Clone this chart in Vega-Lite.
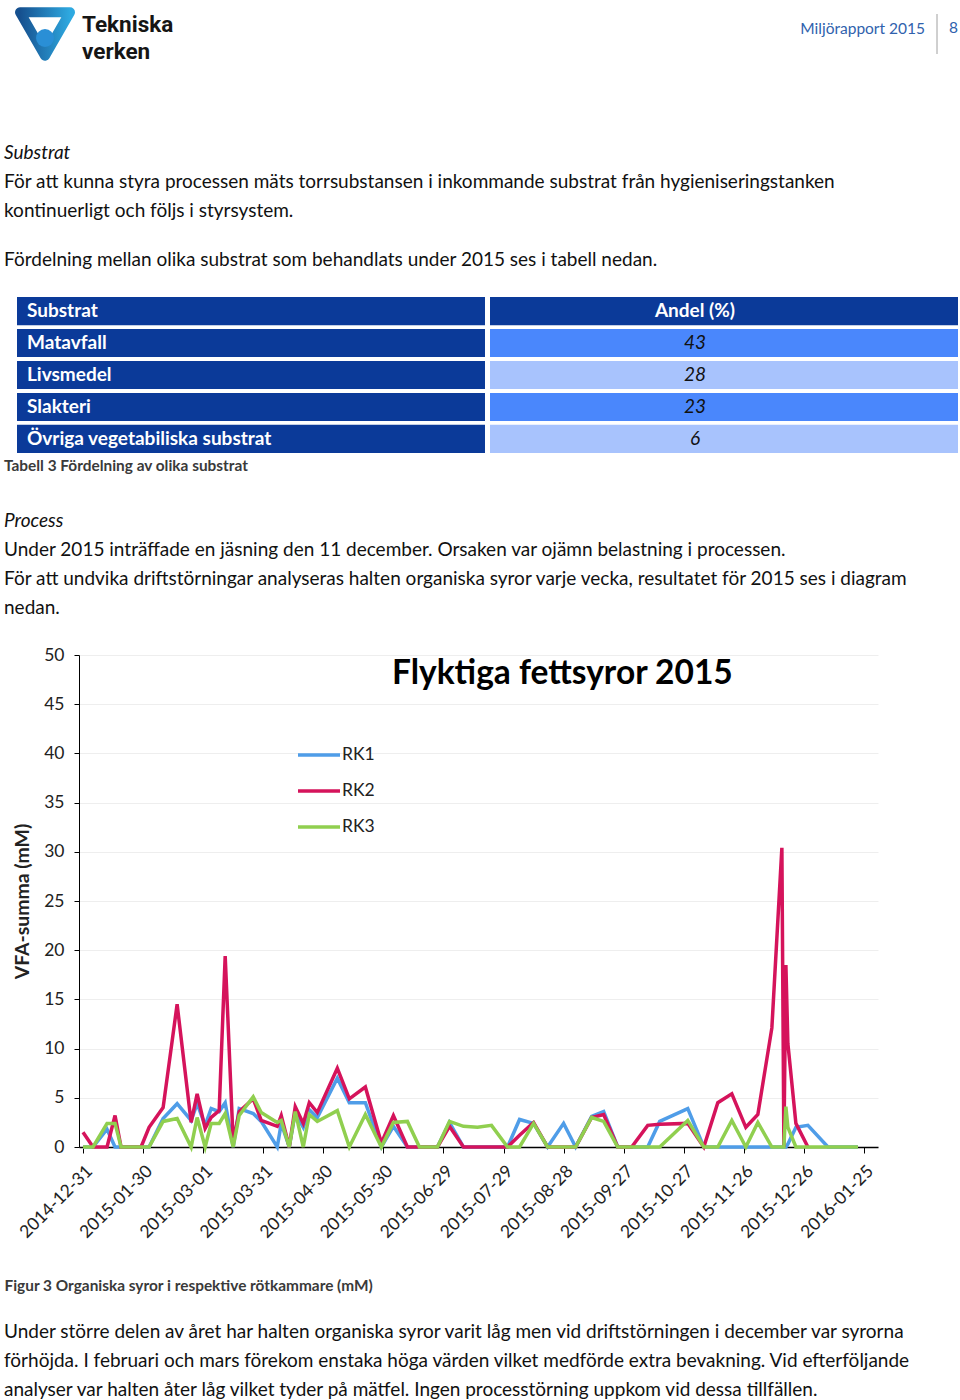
{
  "$schema": "https://vega.github.io/schema/vega-lite/v6.json",
  "background": "white",
  "padding": {"left": 4, "top": 7, "right": 0, "bottom": 0},
  "spacing": 0,
  "resolve": {"scale": {"color": "independent"}, "legend": {"color": "independent"}},
  "config": {
    "font": "Lato",
    "view": {"stroke": null},
    "concat": {"spacing": 0},
    "title": {"anchor": "start", "frame": "group", "font": "Lato", "fontSize": 19, "fontWeight": "normal", "color": "#111111", "subtitleFont": "Lato", "subtitleFontSize": 19, "subtitleColor": "#111111", "subtitleLineHeight": 29, "lineHeight": 29, "offset": 0, "dx": -75}
  },
  "vconcat": [
    {
      "spacing": 0,
      "hconcat": [
        {
          "width": 200, "height": 40,
          "data": {"values": [{"k": "logo"}]},
          "title": {"text": ["Tekniska", "verken"], "font": "Roboto", "fontSize": 22.5, "fontWeight": "bold", "color": "#151515", "lineHeight": 26.5, "dx": 3, "orient": "top", "baseline": "top", "offset": -56},
          "layer": [
            {"mark": {"type": "point", "shape": "triangle-down", "size": 2500, "filled": true, "fill": "white", "stroke": {"gradient": "linear", "x1": 0, "y1": 0, "x2": 1, "y2": 0, "stops": [{"offset": 0, "color": "#16508f"}, {"offset": 1, "color": "#2ea9e0"}]}, "strokeWidth": 10, "strokeJoin": "round", "opacity": 1, "xOffset": -134}, "encoding": {}},
            {"mark": {"type": "point", "shape": "circle", "size": 320, "filled": true, "color": "#2a8fd6", "opacity": 1, "xOffset": -134, "yOffset": 4}, "encoding": {}}
          ]
        },
        {
          "width": 657, "height": 56,
          "data": {"values": [{}]},
          "mark": {"type": "point", "opacity": 0},
          "encoding": {},
          "title": {"text": "Miljörapport 2015", "anchor": "end", "dx": -11, "fontSize": 15.5, "color": "#2f62ad", "orient": "top", "baseline": "top", "offset": -23}
        },
        {
          "width": 20, "height": 40,
          "data": {"values": [{}]},
          "mark": {"type": "rule", "color": "#a0a0a0"},
          "encoding": {"x": {"datum": 0, "type": "quantitative", "scale": {"domain": [0, 1]}, "axis": null}},
          "title": {"text": "8", "dx": 12, "fontSize": 15.5, "color": "#2f62ad", "orient": "top", "baseline": "top", "offset": -23}
        }
      ]
    },
    {"width": 1, "height": 74, "data": {"values": [{}]}, "mark": {"type": "point", "opacity": 0}, "encoding": {}},
    {
      "width": 870, "height": 26,
      "data": {"values": [{}]},
      "mark": {"type": "point", "opacity": 0},
      "encoding": {},
      "title": {"text": "Substrat", "fontStyle": "italic", "subtitle": ["För att kunna styra processen mäts torrsubstansen i inkommande substrat från hygieniseringstanken", "kontinuerligt och följs i styrsystem."], "subtitlePadding": 10}
    },
    {
      "width": 870, "height": 23,
      "data": {"values": [{}]},
      "mark": {"type": "point", "opacity": 0},
      "encoding": {},
      "title": {"text": "Fördelning mellan olika substrat som behandlats under 2015 ses i tabell nedan."}
    },
    {
      "width": 879, "height": 156,
      "data": {"values": [
        {"sub": "Substrat", "andel": "Andel (%)", "kind": "head"},
        {"sub": "Matavfall", "andel": "43", "kind": "mid"},
        {"sub": "Livsmedel", "andel": "28", "kind": "light"},
        {"sub": "Slakteri", "andel": "23", "kind": "mid"},
        {"sub": "Övriga vegetabiliska substrat", "andel": "6", "kind": "light"}
      ]},
      "title": {"text": "Tabell 3 Fördelning av olika substrat", "orient": "bottom", "fontSize": 15.4, "fontWeight": "bold", "color": "#3a3a3a", "offset": 6},
      "encoding": {"y": {"field": "sub", "type": "nominal", "sort": null, "axis": null, "scale": {"paddingInner": 0.12, "paddingOuter": 0}}},
      "layer": [
        {"mark": {"type": "rect", "color": "#0b3a99"}, "encoding": {"x": {"datum": "L", "type": "nominal", "scale": {"domain": ["L", "R"], "range": [-62, 879], "paddingInner": 0.0106, "paddingOuter": 0}, "axis": null}}},
        {"mark": {"type": "rect"}, "encoding": {"x": {"datum": "R", "type": "nominal"}, "color": {"field": "kind", "type": "nominal", "scale": {"domain": ["head", "mid", "light"], "range": ["#0b3a99", "#4a87fc", "#a8c3fd"]}, "legend": null}}},
        {"mark": {"type": "text", "align": "left", "dx": 10, "color": "#ffffff", "fontWeight": "bold", "fontSize": 19}, "encoding": {"x": {"datum": "L", "type": "nominal", "bandPosition": 0}, "text": {"field": "sub"}}},
        {"transform": [{"filter": "datum.kind === 'head'"}], "mark": {"type": "text", "dx": -29, "color": "#ffffff", "fontWeight": "bold", "fontSize": 19}, "encoding": {"x": {"datum": "R", "type": "nominal"}, "text": {"field": "andel"}}},
        {"transform": [{"filter": "datum.kind !== 'head'"}], "mark": {"type": "text", "dx": -29, "color": "#111111", "fontStyle": "italic", "fontSize": 19}, "encoding": {"x": {"datum": "R", "type": "nominal"}, "text": {"field": "andel"}}}
      ]
    },
    {"width": 1, "height": 37, "data": {"values": [{}]}, "mark": {"type": "point", "opacity": 0}, "encoding": {}},
    {
      "width": 870, "height": 24,
      "data": {"values": [{}]},
      "mark": {"type": "point", "opacity": 0},
      "encoding": {},
      "title": {"text": "Process", "fontStyle": "italic", "subtitle": ["Under 2015 inträffade en jäsning den 11 december. Orsaken var ojämn belastning i processen.", "För att undvika driftstörningar analyseras halten organiska syror varje vecka, resultatet för 2015 ses i diagram", "nedan."], "subtitlePadding": 10}
    },
    {
      "width": 799, "height": 492,
      "title": {"text": "Flyktiga fettsyror 2015", "fontSize": 33.5, "fontWeight": "bold", "color": "#000000", "dx": 313, "orient": "top", "baseline": "top", "offset": -45},
      "data": {"values": [
        {"d": "2014-12-31", "RK1": 0, "RK2": 1.5, "RK3": 0},
        {"d": "2015-01-05", "RK1": 0, "RK2": 0, "RK3": 0},
        {"d": "2015-01-12", "RK1": 1.8, "RK2": 0, "RK3": 2.4},
        {"d": "2015-01-16", "RK1": 0, "RK2": 3.2, "RK3": 2.4},
        {"d": "2015-01-19", "RK1": 0, "RK2": 0, "RK3": 0},
        {"d": "2015-01-29", "RK1": 0, "RK2": 0, "RK3": 0},
        {"d": "2015-02-02", "RK1": 0, "RK2": 2, "RK3": 0},
        {"d": "2015-02-09", "RK1": 2.9, "RK2": 4, "RK3": 2.6},
        {"d": "2015-02-16", "RK1": 4.4, "RK2": 14.5, "RK3": 2.9},
        {"d": "2015-02-23", "RK1": 2.7, "RK2": 2.5, "RK3": 0},
        {"d": "2015-02-26", "RK1": 4.4, "RK2": 5.4, "RK3": 3},
        {"d": "2015-03-02", "RK1": 2.2, "RK2": 1.9, "RK3": 0},
        {"d": "2015-03-05", "RK1": 3.9, "RK2": 3, "RK3": 2.4},
        {"d": "2015-03-09", "RK1": 3.6, "RK2": 3.7, "RK3": 2.4},
        {"d": "2015-03-12", "RK1": 4.5, "RK2": 19.4, "RK3": 3.4},
        {"d": "2015-03-16", "RK1": 0, "RK2": 0.5, "RK3": 0},
        {"d": "2015-03-19", "RK1": 3.9, "RK2": 3.6, "RK3": 3.2},
        {"d": "2015-03-26", "RK1": 3.4, "RK2": 4.9, "RK3": 5.1},
        {"d": "2015-03-30", "RK1": 2.6, "RK2": 2.7, "RK3": 3.5},
        {"d": "2015-04-07", "RK1": 0, "RK2": 2.1, "RK3": 2.5},
        {"d": "2015-04-09", "RK1": 2.4, "RK2": 3.2, "RK3": 2.7},
        {"d": "2015-04-13", "RK1": 0, "RK2": 0, "RK3": 0},
        {"d": "2015-04-16", "RK1": 3.5, "RK2": 4.1, "RK3": 3.6},
        {"d": "2015-04-20", "RK1": 2, "RK2": 2.4, "RK3": 0},
        {"d": "2015-04-23", "RK1": 3.8, "RK2": 4.5, "RK3": 3.3},
        {"d": "2015-04-27", "RK1": 3, "RK2": 3.5, "RK3": 2.6},
        {"d": "2015-05-07", "RK1": 7, "RK2": 8, "RK3": 3.7},
        {"d": "2015-05-13", "RK1": 4.5, "RK2": 4.9, "RK3": 0},
        {"d": "2015-05-21", "RK1": 4.5, "RK2": 6.1, "RK3": 3.3},
        {"d": "2015-05-29", "RK1": 0, "RK2": 0.4, "RK3": 0},
        {"d": "2015-06-04", "RK1": 2.1, "RK2": 3.2, "RK3": 2.5},
        {"d": "2015-06-11", "RK1": 0, "RK2": 0, "RK3": 2.6},
        {"d": "2015-06-17", "RK1": 0, "RK2": 0, "RK3": 0},
        {"d": "2015-06-26", "RK1": 0, "RK2": 0, "RK3": 0},
        {"d": "2015-07-02", "RK1": 2.5, "RK2": 2.1, "RK3": 2.6},
        {"d": "2015-07-09", "RK1": 0, "RK2": 0, "RK3": 2.1},
        {"d": "2015-07-16", "RK1": 0, "RK2": 0, "RK3": 2},
        {"d": "2015-07-23", "RK1": 0, "RK2": 0, "RK3": 2.2},
        {"d": "2015-07-31", "RK1": 0, "RK2": 0, "RK3": 0},
        {"d": "2015-08-06", "RK1": 2.8, "RK2": 1.2, "RK3": 0},
        {"d": "2015-08-13", "RK1": 2.4, "RK2": 2.5, "RK3": 2.4},
        {"d": "2015-08-20", "RK1": 0, "RK2": 0, "RK3": 0},
        {"d": "2015-08-28", "RK1": 2.4, "RK2": 0, "RK3": 0},
        {"d": "2015-09-03", "RK1": 0, "RK2": 0, "RK3": 0},
        {"d": "2015-09-11", "RK1": 3.1, "RK2": 3, "RK3": 3},
        {"d": "2015-09-17", "RK1": 3.6, "RK2": 3.3, "RK3": 2.6},
        {"d": "2015-09-24", "RK1": 0, "RK2": 0, "RK3": 0},
        {"d": "2015-10-01", "RK1": 0, "RK2": 0, "RK3": 0},
        {"d": "2015-10-09", "RK1": 0, "RK2": 2.2, "RK3": 0},
        {"d": "2015-10-15", "RK1": 2.6, "RK2": 2.3, "RK3": 0},
        {"d": "2015-10-29", "RK1": 3.9, "RK2": 2.4, "RK3": 2.7},
        {"d": "2015-11-06", "RK1": 0, "RK2": 0, "RK3": 0},
        {"d": "2015-11-13", "RK1": 0, "RK2": 4.5, "RK3": 0},
        {"d": "2015-11-20", "RK1": 0, "RK2": 5.4, "RK3": 2.7},
        {"d": "2015-11-27", "RK1": 0, "RK2": 2, "RK3": 0},
        {"d": "2015-12-03", "RK1": 0, "RK2": 3.3, "RK3": 2.5},
        {"d": "2015-12-10", "RK1": 0, "RK2": 12.1, "RK3": 0},
        {"d": "2015-12-15", "RK1": 0, "RK2": 30.4, "RK3": 0},
        {"d": "2015-12-16", "RK1": 0, "RK2": 0, "RK3": 0},
        {"d": "2015-12-17", "RK1": 0, "RK2": 18.5, "RK3": 4.1},
        {"d": "2015-12-18", "RK1": 0.3, "RK2": 10.5, "RK3": 2},
        {"d": "2015-12-22", "RK1": 2, "RK2": 2.4, "RK3": 0},
        {"d": "2015-12-28", "RK1": 2.2, "RK2": 0, "RK3": 0},
        {"d": "2016-01-07", "RK1": 0, "RK3": 0},
        {"d": "2016-01-22", "RK1": 0, "RK3": 0}
      ]},
      "transform": [
        {"fold": ["RK1", "RK2", "RK3"], "as": ["s", "v"]},
        {"filter": "isValid(datum.v)"}
      ],
      "mark": {"type": "line", "strokeWidth": 3.5},
      "encoding": {
        "x": {
          "field": "d", "type": "temporal",
          "scale": {"type": "utc", "domain": [{"year": 2014, "month": 12, "date": 29, "utc": true}, {"year": 2016, "month": 2, "date": 1, "utc": true}]},
          "axis": {
            "title": "Figur 3 Organiska syror i respektive rötkammare (mM)",
            "titleFontSize": 15.4, "titleFontWeight": "bold", "titleColor": "#3a3a3a",
            "titleX": -75, "titleY": 138, "titleAlign": "left", "titleBaseline": "middle",
            "values": [
              {"year": 2014, "month": 12, "date": 31, "utc": true},
              {"year": 2015, "month": 1, "date": 30, "utc": true},
              {"year": 2015, "month": 3, "date": 1, "utc": true},
              {"year": 2015, "month": 3, "date": 31, "utc": true},
              {"year": 2015, "month": 4, "date": 30, "utc": true},
              {"year": 2015, "month": 5, "date": 30, "utc": true},
              {"year": 2015, "month": 6, "date": 29, "utc": true},
              {"year": 2015, "month": 7, "date": 29, "utc": true},
              {"year": 2015, "month": 8, "date": 28, "utc": true},
              {"year": 2015, "month": 9, "date": 27, "utc": true},
              {"year": 2015, "month": 10, "date": 27, "utc": true},
              {"year": 2015, "month": 11, "date": 26, "utc": true},
              {"year": 2015, "month": 12, "date": 26, "utc": true},
              {"year": 2016, "month": 1, "date": 25, "utc": true}
            ],
            "format": "%Y-%m-%d",
            "labelAngle": -45, "labelFontSize": 17.5, "labelColor": "#222222", "labelPadding": 9,
            "labelOverlap": false, "labelFlush": false,
            "tickColor": "#000000", "tickSize": 6, "domainColor": "#000000", "domainWidth": 1.5, "grid": false
          }
        },
        "y": {
          "field": "v", "type": "quantitative",
          "scale": {"domain": [0, 50], "nice": false},
          "axis": {
            "title": "VFA-summa (mM)", "titleFontSize": 19.4, "titleFontWeight": "bold", "titleColor": "#222222", "titlePadding": 11,
            "values": [0, 5, 10, 15, 20, 25, 30, 35, 40, 45, 50],
            "labelFontSize": 17.5, "labelColor": "#222222", "labelPadding": 10,
            "tickSize": 5, "tickColor": "#000000", "domainColor": "#000000",
            "grid": true, "gridColor": "#eeeeee", "labelFlush": false
          }
        },
        "color": {
          "field": "s", "type": "nominal",
          "scale": {"domain": ["RK1", "RK2", "RK3"], "range": ["#4f9de8", "#d5135b", "#90cf4f"]},
          "legend": {"orient": "none", "legendX": 217, "legendY": 77, "title": null, "symbolType": "stroke", "symbolStrokeWidth": 3.5, "symbolSize": 1764, "labelFontSize": 17.5, "labelColor": "#222222", "rowPadding": 4, "labelOffset": 0}
        }
      }
    },
    {"width": 1, "height": 28, "data": {"values": [{}]}, "mark": {"type": "point", "opacity": 0}, "encoding": {}},
    {
      "width": 870, "height": 1,
      "data": {"values": [{}]},
      "mark": {"type": "point", "opacity": 0},
      "encoding": {},
      "title": {"text": ["Under större delen av året har halten organiska syror varit låg men vid driftstörningen i december var syrorna", "förhöjda.  I februari och mars förekom enstaka höga värden vilket medförde extra bevakning. Vid efterföljande", "analyser var halten åter låg vilket tyder på mätfel. Ingen processtörning uppkom vid dessa tillfällen."]}
    }
  ]
}
